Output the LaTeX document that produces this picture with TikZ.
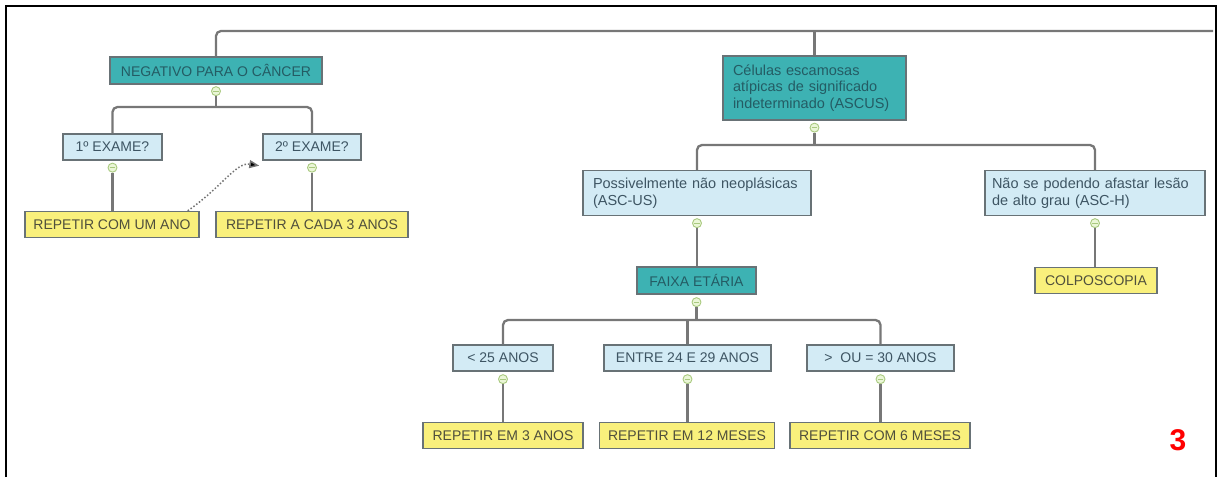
\documentclass[tikz,border=0pt]{standalone}
\usepackage{fontspec}
\setmainfont{Liberation Sans}
\usetikzlibrary{arrows.meta,positioning}
\definecolor{tealc}{HTML}{3DB2B3}
\definecolor{bluec}{HTML}{D3EBF5}
\definecolor{yelc}{HTML}{F9F07C}
\definecolor{bordc}{HTML}{687276}
\definecolor{connc}{HTML}{777777}
\definecolor{txtc}{HTML}{3E5563}
\definecolor{tealtxt}{HTML}{245C64}
\definecolor{yeltxt}{HTML}{4F4F3C}
\definecolor{colfill}{HTML}{EAF6D6}
\definecolor{coldraw}{HTML}{A9C97F}
\tikzset{
  boxbase/.style={draw=bordc, line width=1.4pt, inner xsep=4pt, inner ysep=2pt,
    font=\fontsize{14}{16}\selectfont},
  tealbox/.style={boxbase, fill=tealc, text=tealtxt, minimum height=27pt},
  bluebox/.style={boxbase, fill=bluec, text=txtc, minimum height=26pt},
  yelbox/.style={boxbase, fill=yelc, text=yeltxt, minimum height=26pt},
  multibox/.style={font=\fontsize{14.5}{16.5}\selectfont, align=left},
  collapse/.style={circle, draw=coldraw, fill=colfill, line width=0.9pt,
    minimum size=9pt, inner sep=0pt,
    path picture={\draw[coldraw, line width=0.9pt]
      ([xshift=-2.6pt]path picture bounding box.center) -- ([xshift=2.6pt]path picture bounding box.center);}},
  conn/.style={draw=connc, line width=2.3pt, rounded corners=5pt},
}
\begin{document}
\begin{tikzpicture}[x=1pt,y=-1pt]
\useasboundingbox (0,0) rectangle (1221,477);
% frame
\draw[black, line width=2pt] (5.5,477) -- (5.5,5.5) -- (1215.5,5.5) -- (1215.5,477);

% ---- left tree
\node[tealbox, minimum width=212pt] (neg) at (216,70.5) {NEGATIVO PARA O CÂNCER};
\node[bluebox, minimum width=99pt] (ex1) at (112.5,147) {1º EXAME?};
\node[bluebox, minimum width=98pt] (ex2) at (312,147) {2º EXAME?};
\node[yelbox, minimum width=174pt] (r1) at (112,224.5) {REPETIR COM UM ANO};
\node[yelbox, minimum width=192pt] (r2) at (312,224.5) {REPETIR A CADA 3 ANOS};

% ---- right tree
\node[tealbox, multibox, text width=163pt, inner xsep=10pt, minimum height=64pt] (ascus) at (814.5,88)
  {Células escamosas\\atípicas de significado\\indeterminado (ASCUS)};
\node[bluebox, multibox, text width=208pt, inner xsep=10pt, minimum height=45pt] (ascus2) at (697,193)
  {Possivelmente não neoplásicas\\(ASC-US)};
\node[bluebox, multibox, text width=206pt, inner xsep=7pt, minimum height=45pt] (asch) at (1095,193)
  {Não se podendo afastar lesão\\de alto grau (ASC-H)};
\node[yelbox, minimum width=122pt] (colpo) at (1096,280.5) {COLPOSCOPIA};
\node[tealbox, minimum width=119pt] (faixa) at (696.5,280.5) {FAIXA ETÁRIA};
\node[bluebox, minimum width=100pt] (a25) at (503,358) {< 25 ANOS};
\node[bluebox, minimum width=167pt] (a2429) at (687.5,358) {ENTRE 24 E 29 ANOS};
\node[bluebox, minimum width=147pt] (a30) at (880.5,358) {>\ \ OU = 30 ANOS};
\node[yelbox, minimum width=160pt] (b1) at (503,435.5) {REPETIR EM 3 ANOS};
\node[yelbox, minimum width=175pt] (b2) at (687,435.5) {REPETIR EM 12 MESES};
\node[yelbox, minimum width=180pt] (b3) at (880,435.5) {REPETIR COM 6 MESES};

% collapse markers
\node[collapse, below=1.5pt of neg] (cneg) {};
\node[collapse, below=2pt of ex1] (cex1) {};
\node[collapse, below=2pt of ex2] (cex2) {};
\node[collapse, below=2pt of ascus] (cascus) {};
\node[collapse, below=2pt of ascus2] (cascus2) {};
\node[collapse, below=2pt of asch] (casch) {};
\node[collapse, below=2.5pt of faixa] (cfaixa) {};
\node[collapse, below=2.5pt of a25] (ca25) {};
\node[collapse, below=2.5pt of a2429] (ca2429) {};
\node[collapse, below=2.5pt of a30] (ca30) {};

% branch points
\coordinate (topr) at (1213,31);
\coordinate (bneg) at (216,107);
\coordinate (bascus) at (814.5,145);
\coordinate (bfaixa) at (696.5,320);

% connectors
\draw[conn] (neg.north) |- (topr);
\draw[conn] (ascus.north) -- (ascus.north |- topr);

\draw[conn] (cneg.south) -- (bneg);
\draw[conn] (ex1.north) |- (bneg) -| (ex2.north);
\draw[conn] (cex1.south) -- (r1.north -| cex1);
\draw[conn] (cex2.south) -- (r2.north -| cex2);

\draw[conn] (cascus.south) -- (bascus);
\draw[conn] (ascus2.north) |- (bascus) -| (asch.north);
\draw[conn] (cascus2.south) -- (faixa.north -| cascus2);
\draw[conn] (casch.south) -- (colpo.north -| casch);

\draw[conn] (cfaixa.south) -- (bfaixa);
\draw[conn] (a25.north) |- (bfaixa) -| (a30.north);
\draw[conn] (a2429.north) -- (a2429.north |- bfaixa);
\draw[conn] (ca25.south) -- (b1.north -| ca25);
\draw[conn] (ca2429.south) -- (b2.north -| ca2429);
\draw[conn] (ca30.south) -- (b3.north -| ca30);

% dotted arrow
\draw[draw=gray!90!black, line width=1.5pt, dotted, -{Triangle[length=10pt,width=8pt,fill=black]}]
  ([xshift=-12pt]r1.north east) .. controls (222,187) and (236,162) .. ([xshift=-3pt,yshift=-5pt]ex2.south west);

% page number
\node[text=red, font=\fontsize{30}{30}\bfseries\selectfont] (num) at (1178,440) {3};
\end{tikzpicture}
\end{document}
